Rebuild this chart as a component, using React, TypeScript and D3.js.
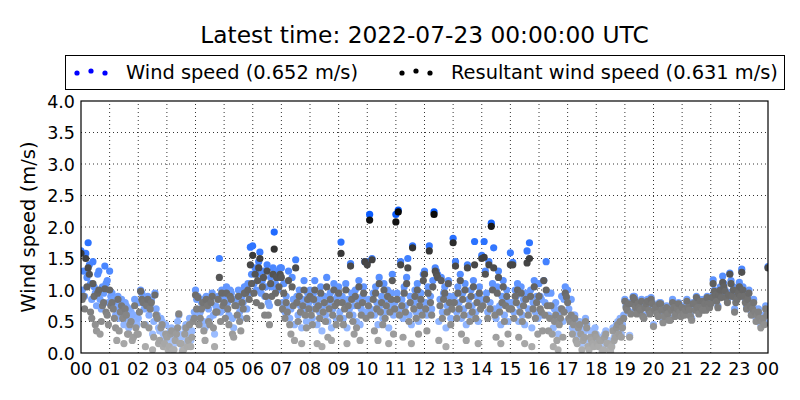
import React from "react";
import * as d3 from "d3";

const title = "Latest time: 2022-07-23 00:00:00 UTC";
const wsLabel = "Wind speed (0.652 m/s)";
const rsLabel = "Resultant wind speed (0.631 m/s)";
const yLabel = "Wind speed (m/s)";
const yTicks = [0, 0.5, 1, 1.5, 2, 2.5, 3, 3.5, 4];
const xTickLabels = ["00","01","02","03","04","05","06","07","08","09","10","11","12","13","14","15","16","17","18","19","20","21","22","23","00"];
const stepMinutes = 2.5;

// wind speed, every 2.5 minutes from 00:00 to 24:00 (one row per hour)
const windSpeed = [
  1.62,1.00,1.30,0.90,1.58,1.20,1.75,1.40,1.10,0.85,1.45,1.05,0.95,0.75,1.25,1.30,0.85,0.70,1.05,0.95,1.38,1.10,1.15,0.80,
  1.30,0.90,0.95,0.85,0.80,0.60,0.70,0.90,0.55,0.75,0.85,0.65,0.45,0.80,0.75,0.55,0.40,0.70,0.65,0.50,0.60,0.85,0.50,0.45,
  0.55,0.80,1.00,0.95,0.85,0.70,0.45,0.80,0.90,0.60,0.75,0.85,0.30,0.50,0.95,0.70,0.60,0.40,0.35,0.55,0.50,0.30,0.25,0.45,
  0.30,0.15,0.20,0.35,0.40,0.10,0.15,0.25,0.35,0.50,0.60,0.30,0.25,0.05,0.10,0.40,0.45,0.20,0.30,0.55,0.20,0.35,0.55,0.65,
  1.00,0.85,0.90,0.60,0.65,0.80,0.85,0.50,0.40,0.90,0.80,0.70,0.55,0.85,0.95,0.60,0.30,0.75,0.70,0.90,1.50,0.65,1.00,0.85,
  0.90,0.70,1.05,0.80,0.60,1.00,0.95,0.55,0.40,0.85,0.85,0.75,1.00,0.65,0.55,0.90,0.80,1.05,1.05,0.70,1.10,0.95,1.68,1.25,
  1.70,1.10,1.35,1.00,1.25,1.45,1.60,0.95,1.15,1.30,0.90,1.05,1.40,0.80,0.75,1.20,1.05,1.35,1.92,1.10,1.30,1.00,1.20,1.35,
  1.35,0.80,1.10,0.65,0.90,0.75,1.30,0.55,0.70,1.20,0.85,0.45,1.48,0.90,0.60,1.00,0.75,0.40,0.85,1.15,0.70,0.50,0.95,0.80,
  1.00,0.70,0.55,0.95,1.15,0.80,0.45,0.85,0.65,1.05,0.35,0.75,0.90,0.60,1.20,0.50,0.80,0.95,0.40,0.70,1.10,0.85,0.55,0.90,
  1.05,0.65,1.76,0.90,0.55,0.80,1.10,0.40,0.85,0.70,1.42,0.95,0.60,0.75,1.00,0.50,0.85,1.15,0.45,0.70,0.90,1.05,1.45,0.65,
  1.45,0.85,2.20,0.70,1.50,0.95,0.60,1.05,0.80,0.45,1.20,0.75,0.90,0.55,1.10,0.65,0.85,1.00,0.40,0.75,0.95,1.25,0.60,0.80,
  2.20,0.95,2.27,0.70,1.45,0.85,0.55,1.05,0.75,1.20,1.50,0.60,0.90,0.45,1.70,0.80,1.00,0.65,1.10,0.50,0.85,0.95,0.70,1.25,
  1.30,0.80,0.60,1.05,1.70,0.90,0.70,1.15,2.24,1.35,1.30,1.25,0.50,0.85,1.20,0.65,0.95,1.05,0.40,0.75,1.15,0.90,0.55,0.80,
  1.82,0.90,1.45,0.65,1.05,0.80,1.25,0.55,0.95,0.70,1.10,0.45,1.40,0.85,0.60,1.00,0.75,1.15,1.77,0.65,0.90,0.50,1.05,0.80,
  1.55,0.85,1.77,1.30,0.95,0.65,1.45,0.80,2.06,1.10,1.67,0.70,0.55,1.05,1.30,0.75,0.45,0.90,1.15,0.60,0.85,1.00,0.50,0.80,
  1.59,0.80,1.44,0.65,1.00,0.90,1.10,0.50,0.75,1.05,0.60,0.85,0.45,0.95,1.62,0.70,1.75,1.00,0.40,0.80,1.15,0.65,0.90,0.55,
  1.10,0.90,0.85,0.60,1.15,0.80,1.45,0.95,0.60,0.75,0.95,0.55,0.40,0.70,0.80,0.50,0.30,0.65,0.70,0.90,0.50,0.85,1.05,1.00,
  1.00,0.70,0.55,0.85,0.40,0.60,0.60,0.35,0.25,0.50,0.50,0.40,0.15,0.30,0.35,0.55,0.45,0.20,0.10,0.35,0.30,0.25,0.20,0.40,
  0.30,0.20,0.15,0.25,0.25,0.05,0.10,0.30,0.35,0.20,0.20,0.10,0.05,0.15,0.40,0.25,0.30,0.45,0.50,0.35,0.55,0.30,0.45,0.60,
  0.85,0.75,0.70,0.80,0.28,0.65,0.80,0.90,0.90,0.75,0.65,0.80,0.75,0.70,0.85,0.60,0.60,0.75,0.80,0.85,0.70,0.65,0.88,0.80,
  0.45,0.70,0.75,0.65,0.60,0.80,0.80,0.70,0.50,0.60,0.70,0.75,0.65,0.55,0.55,0.70,0.85,0.75,0.60,0.65,0.72,0.80,0.68,0.60,
  0.75,0.65,0.62,0.70,0.85,0.75,0.70,0.60,0.55,0.80,0.80,0.70,0.90,0.75,0.65,0.85,0.75,0.70,0.85,0.80,0.70,0.90,0.80,0.75,
  0.80,0.90,1.16,1.00,0.95,0.85,0.75,0.95,1.05,0.90,1.22,1.10,1.00,0.90,0.85,0.95,1.27,1.15,0.95,1.05,0.70,0.85,0.90,1.00,
  1.12,0.95,1.33,1.05,0.95,0.85,0.75,0.90,1.00,0.80,0.65,0.75,0.85,0.70,0.55,0.65,0.70,0.60,0.45,0.55,0.60,0.50,0.75,0.65,
  1.37,
];

// resultant wind speed, same times
const resultantSpeed = [
  1.58,0.85,0.90,0.70,1.50,1.05,1.35,1.25,0.65,0.55,1.10,0.90,0.45,0.35,0.95,1.00,0.30,0.50,0.75,0.80,1.02,0.65,0.60,0.45,
  1.00,0.75,0.80,0.70,0.55,0.40,0.20,0.85,0.35,0.65,0.75,0.55,0.15,0.70,0.60,0.30,0.30,0.45,0.50,0.20,0.25,0.75,0.40,0.30,
  0.30,0.65,0.98,0.85,0.80,0.45,0.10,0.75,0.85,0.40,0.70,0.80,0.05,0.25,0.92,0.60,0.55,0.15,0.20,0.40,0.45,0.10,0.15,0.30,
  0.25,0.05,0.10,0.30,0.35,0.05,0.05,0.20,0.30,0.40,0.62,0.15,0.15,0.02,0.05,0.30,0.40,0.10,0.20,0.45,0.10,0.25,0.50,0.55,
  0.92,0.70,0.88,0.45,0.55,0.70,0.80,0.35,0.20,0.85,0.75,0.50,0.45,0.80,0.90,0.40,0.10,0.65,0.65,0.85,1.20,0.50,0.95,0.75,
  0.80,0.55,0.95,0.70,0.45,0.90,0.85,0.30,0.25,0.75,0.75,0.60,0.90,0.50,0.35,0.80,0.70,0.95,0.95,0.55,1.00,0.85,1.40,1.10,
  1.55,0.95,1.25,0.80,1.15,1.35,1.50,0.75,1.05,1.20,0.60,0.90,1.30,0.60,0.45,1.10,0.90,1.25,1.65,0.95,1.20,0.80,1.05,1.25,
  1.20,0.70,0.95,0.55,0.80,0.65,1.15,0.45,0.30,1.05,0.75,0.20,1.35,0.80,0.50,0.90,0.65,0.15,0.75,1.00,0.60,0.40,0.85,0.70,
  0.90,0.60,0.45,0.85,1.00,0.70,0.15,0.75,0.55,0.95,0.10,0.65,0.80,0.50,1.05,0.25,0.70,0.85,0.20,0.60,1.00,0.75,0.45,0.80,
  0.95,0.55,1.58,0.80,0.45,0.70,1.00,0.15,0.75,0.60,1.38,0.85,0.50,0.30,0.90,0.40,0.75,1.05,0.20,0.60,0.80,0.95,1.45,0.55,
  1.40,0.75,2.11,0.60,1.48,0.85,0.35,0.95,0.70,0.20,1.10,0.65,0.80,0.45,1.00,0.55,0.75,0.90,0.15,0.65,0.85,1.15,0.30,0.70,
  2.08,0.85,2.24,0.60,1.40,0.75,0.25,0.95,0.65,1.10,1.35,0.50,0.80,0.15,1.67,0.70,0.90,0.55,1.00,0.30,0.75,0.85,0.60,1.15,
  1.25,0.70,0.35,0.95,1.62,0.80,0.60,1.05,2.20,1.30,1.25,1.20,0.20,0.75,1.15,0.55,0.85,0.95,0.10,0.65,1.10,0.80,0.45,0.70,
  1.75,0.80,1.38,0.55,0.95,0.70,1.15,0.30,0.85,0.60,1.00,0.20,1.35,0.75,0.50,0.90,0.65,1.05,1.40,0.55,0.80,0.15,0.95,0.70,
  1.50,0.75,1.52,1.25,0.85,0.55,1.40,0.70,2.01,1.00,1.35,0.60,0.25,0.95,1.20,0.65,0.15,0.80,1.05,0.50,0.75,0.90,0.30,0.70,
  1.40,0.70,1.40,0.55,0.90,0.80,1.00,0.25,0.65,0.95,0.50,0.75,0.15,0.85,1.43,0.60,1.50,0.90,0.10,0.70,1.05,0.55,0.80,0.30,
  0.90,0.70,0.65,0.35,1.15,0.60,1.00,0.75,0.35,0.55,0.75,0.30,0.10,0.50,0.60,0.20,0.05,0.45,0.55,0.70,0.25,0.65,0.95,0.89,
  0.80,0.55,0.50,0.60,0.30,0.45,0.55,0.20,0.15,0.40,0.45,0.30,0.05,0.20,0.25,0.50,0.40,0.10,0.05,0.25,0.20,0.15,0.10,0.30,
  0.25,0.15,0.10,0.20,0.20,0.02,0.05,0.25,0.30,0.15,0.15,0.05,0.02,0.10,0.35,0.20,0.25,0.40,0.45,0.30,0.50,0.25,0.40,0.55,
  0.82,0.72,0.68,0.78,0.25,0.62,0.78,0.88,0.85,0.72,0.62,0.78,0.72,0.68,0.82,0.58,0.55,0.72,0.78,0.82,0.68,0.62,0.85,0.78,
  0.42,0.68,0.72,0.62,0.58,0.78,0.78,0.68,0.48,0.58,0.68,0.72,0.62,0.52,0.52,0.68,0.80,0.72,0.58,0.62,0.70,0.78,0.65,0.58,
  0.72,0.62,0.60,0.68,0.82,0.72,0.68,0.58,0.52,0.78,0.78,0.68,0.88,0.72,0.62,0.82,0.72,0.68,0.82,0.78,0.68,0.88,0.78,0.72,
  0.78,0.88,1.10,0.98,0.92,0.82,0.72,0.92,1.00,0.88,1.12,1.05,0.98,0.88,0.80,0.92,1.25,1.10,0.90,1.00,0.65,0.80,0.85,0.95,
  1.05,0.90,1.28,1.00,0.90,0.80,0.70,0.85,0.95,0.75,0.60,0.70,0.80,0.65,0.50,0.60,0.65,0.55,0.40,0.50,0.55,0.45,0.70,0.60,
  1.35,
];

const W = 800, H = 400;
const margin = { left: 81, right: 32, top: 101, bottom: 47 };
const FONT = "DejaVu Sans, sans-serif";

export default function App() {
  const x = d3.scaleLinear().domain([0, 24]).range([margin.left, W - margin.right]);
  const y = d3.scaleLinear().domain([0, 4]).range([H - margin.bottom, margin.top]);
  const shade = (base: string, v: number) =>
    d3.interpolateRgb("#ffffff", base)(Math.min(1, 0.3 + 0.3 * v));
  const t = (i: number) => (i * stepMinutes) / 60;
  const x0 = x(0), x1 = x(24), y0 = y(0), y1 = y(4);

  return (
    <svg width={W} height={H} style={{ position: "absolute", left: 0, top: 0, background: "#fff" }} fontFamily={FONT}>
      <rect x={0} y={0} width={W} height={H} fill="#fff" />
      <text x={(x0 + x1) / 2} y={43} textAnchor="middle" fontSize={23.3}>{title}</text>

      {/* legend */}
      <rect x={65.5} y={55.5} width={719} height={34} fill="#fff" stroke="#000" strokeWidth={1} />
      {[77, 91, 105].map((cx, k) => (
        <circle key={"lb" + k} cx={cx} cy={k === 1 ? 71 : 73} r={2.6} fill="#0000ff" />
      ))}
      <text x={126} y={79} fontSize={19.4}>{wsLabel}</text>
      {[402, 416, 430].map((cx, k) => (
        <circle key={"lk" + k} cx={cx} cy={k === 1 ? 71 : 73} r={2.6} fill="#000" />
      ))}
      <text x={451} y={79} fontSize={19.4}>{rsLabel}</text>

      {/* grid */}
      {d3.range(1, 24).map((h) => (
        <line key={"gx" + h} x1={x(h)} x2={x(h)} y1={y0} y2={y1} stroke="#000" strokeWidth={0.8} strokeDasharray="1,3" />
      ))}
      {yTicks.slice(1, -1).map((v) => (
        <line key={"gy" + v} x1={x0} x2={x1} y1={y(v)} y2={y(v)} stroke="#000" strokeWidth={0.8} strokeDasharray="1,3" />
      ))}

      <defs>
        <clipPath id="clip">
          <rect x={x0} y={y1} width={x1 - x0} height={y0 - y1} />
        </clipPath>
      </defs>
      {/* points */}
      <g clipPath="url(#clip)">
        {windSpeed.map((v, i) => (
          <circle key={"w" + i} cx={x(t(i))} cy={y(v)} r={3.6} fill={shade("#0055ff", v)} />
        ))}
        {resultantSpeed.map((v, i) => (
          <circle key={"r" + i} cx={x(t(i))} cy={y(v)} r={3.6} fill={shade("#000000", v)} />
        ))}
      </g>

      {/* frame */}
      <rect x={x0} y={y1} width={x1 - x0} height={y0 - y1} fill="none" stroke="#000" strokeWidth={1.2} />

      {/* y ticks */}
      {yTicks.map((v) => (
        <text key={"yt" + v} x={x0 - 6} y={y(v) + 6.5} textAnchor="end" fontSize={17.5}>{v.toFixed(1)}</text>
      ))}
      {/* x ticks */}
      {xTickLabels.map((s, h) => (
        <text key={"xt" + h} x={x(h)} y={y0 + 22} textAnchor="middle" fontSize={17.5}>{s}</text>
      ))}
      <text transform={`translate(35,${(y0 + y1) / 2}) rotate(-90)`} textAnchor="middle" fontSize={19.5}>{yLabel}</text>
    </svg>
  );
}
